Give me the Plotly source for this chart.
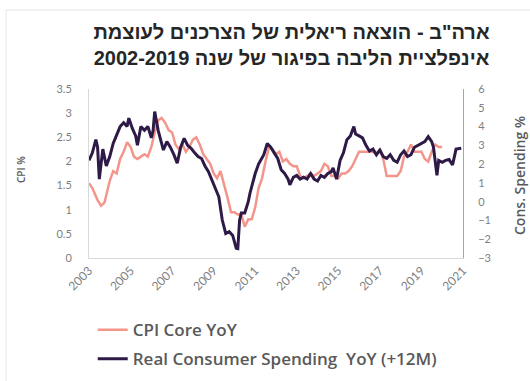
import plotly.graph_objects as go

# Core CPI, year-over-year % (left axis)
cpi_dates = [
    "2003-01", "2003-03", "2003-06", "2003-08", "2003-10", "2004-01", "2004-03", "2004-05",
    "2004-07", "2004-09", "2004-11", "2005-01", "2005-03", "2005-05", "2005-07", "2005-09",
    "2005-11", "2006-01", "2006-03", "2006-05", "2006-07", "2006-09", "2006-11", "2007-01",
    "2007-03", "2007-05", "2007-07", "2007-09", "2007-11", "2008-01", "2008-03", "2008-05",
    "2008-07", "2008-09", "2008-11", "2009-01", "2009-03", "2009-05", "2009-07", "2009-09",
    "2009-11", "2010-01", "2010-03", "2010-05", "2010-07", "2010-09", "2010-11", "2011-01",
    "2011-03", "2011-05", "2011-07", "2011-09", "2011-11", "2012-01", "2012-03", "2012-05",
    "2012-07", "2012-09", "2012-11", "2013-01", "2013-03", "2013-05", "2013-07", "2013-09",
    "2013-11", "2014-01", "2014-03", "2014-05", "2014-07", "2014-09", "2014-11", "2015-01",
    "2015-03", "2015-05", "2015-07", "2015-09", "2015-11", "2016-01", "2016-03", "2016-05",
    "2016-07", "2016-09", "2016-11", "2017-01", "2017-03", "2017-05", "2017-07", "2017-09",
    "2017-11", "2018-01", "2018-03", "2018-05", "2018-07", "2018-09", "2018-11", "2019-01",
    "2019-03", "2019-05", "2019-07", "2019-09", "2019-11", "2020-01",
]
cpi_core = [
    1.55, 1.45, 1.2, 1.08, 1.15, 1.6, 1.8, 1.75,
    2.05, 2.2, 2.4, 2.3, 2.1, 2.05, 2.1, 2.15,
    2.1, 2.3, 2.6, 2.85, 2.9, 2.8, 2.65, 2.6,
    2.35, 2.25, 2.35, 2.2, 2.3, 2.45, 2.5, 2.35,
    2.15, 2.05, 1.95, 1.75, 1.65, 1.8, 1.55, 1.25,
    0.95, 0.95, 0.9, 0.9, 0.65, 0.8, 0.8, 1.05,
    1.45, 1.65, 2.0, 2.3, 2.25, 2.15, 2.2, 2.0,
    2.05, 1.95, 1.9, 1.9, 1.7, 1.65, 1.7, 1.75,
    1.7, 1.75, 1.8, 1.95, 1.9, 1.7, 1.7, 1.65,
    1.75, 1.75, 1.8, 1.9, 2.05, 2.2, 2.2, 2.2,
    2.2, 2.2, 2.15, 2.25, 2.05, 1.7, 1.7, 1.7,
    1.7, 1.8, 2.1, 2.2, 2.35, 2.2, 2.2, 2.2,
    2.05, 2.0, 2.2, 2.35, 2.3, 2.3,
]

# Real consumer spending, year-over-year %, shifted forward 12 months (right axis)
spend_dates = [
    "2003-01", "2003-03", "2003-05", "2003-06", "2003-07", "2003-09", "2003-11", "2004-01",
    "2004-03", "2004-05", "2004-07", "2004-09", "2004-11", "2004-12", "2005-02", "2005-04",
    "2005-05", "2005-07", "2005-09", "2005-11", "2006-01", "2006-02", "2006-03", "2006-05",
    "2006-07", "2006-08", "2006-10", "2006-12", "2007-02", "2007-04", "2007-06", "2007-08",
    "2007-10", "2007-12", "2008-02", "2008-04", "2008-06", "2008-08", "2008-10", "2008-12",
    "2009-02", "2009-04", "2009-06", "2009-08", "2009-10", "2009-12", "2010-02", "2010-03",
    "2010-04", "2010-05", "2010-07", "2010-09", "2010-10", "2010-12", "2011-01", "2011-03",
    "2011-05", "2011-06", "2011-08", "2011-10", "2011-12", "2012-02", "2012-04", "2012-06",
    "2012-08", "2012-09", "2012-11", "2013-01", "2013-03", "2013-05", "2013-07", "2013-09",
    "2013-11", "2014-01", "2014-03", "2014-05", "2014-07", "2014-09", "2014-10", "2014-12",
    "2015-02", "2015-04", "2015-06", "2015-08", "2015-10", "2015-11", "2016-01", "2016-03",
    "2016-05", "2016-07", "2016-09", "2016-11", "2017-01", "2017-03", "2017-05", "2017-07",
    "2017-09", "2017-11", "2018-01", "2018-03", "2018-05", "2018-07", "2018-09", "2018-11",
    "2019-01", "2019-03", "2019-05", "2019-07", "2019-08", "2019-10", "2019-11", "2020-01",
    "2020-03", "2020-05", "2020-07", "2020-09", "2020-12",
]
real_spending = [
    2.2, 2.6, 3.3, 2.9, 1.2, 2.8, 1.9, 2.4,
    3.1, 3.6, 4.0, 4.2, 4.0, 4.45, 3.9, 3.5,
    3.0, 4.0, 3.8, 4.0, 3.4, 3.8, 4.8, 3.8,
    3.0, 2.75, 3.2, 2.9, 2.5, 2.05, 2.9, 3.37,
    3.0, 2.84, 2.6, 2.4, 2.3, 1.9, 1.6, 1.15,
    0.6, 0.26, -0.98, -1.7, -1.6, -1.8, -2.48, -2.5,
    -1.0, -0.6, -0.6, 0.0, 0.45, 1.2, 1.5, 2.0,
    2.3, 2.5, 3.1, 2.9, 2.6, 2.3, 1.7, 1.5,
    1.2, 0.9, 1.3, 1.4, 1.2, 1.3, 1.2, 1.5,
    1.2, 1.1, 1.4, 1.3, 1.5, 1.6, 1.8, 1.2,
    2.2, 2.6, 3.3, 3.5, 4.0, 3.6, 3.5, 3.4,
    3.0, 2.7, 2.8, 2.5, 2.75, 2.4, 2.3, 2.5,
    2.2, 2.1, 2.5, 2.7, 2.4, 2.5, 2.9, 3.0,
    3.1, 3.2, 3.46, 3.2, 2.9, 1.4, 2.2, 2.1,
    2.2, 2.25, 1.95, 2.8, 2.85,
]

tick_years = ["2003", "2005", "2007", "2009", "2011", "2013", "2015", "2017", "2019", "2021"]

title_lines = [
    "ארה\"ב - הוצאה ריאלית של הצרכנים לעוצמת",
    "אינפלציית הליבה בפיגור של שנה 2002-2019",
]

PINK = "#F4958C"
DARK = "#2E1A47"
GREY_TXT = "#7F7F7F"

fig = go.Figure()
fig.add_trace(go.Scatter(
    x=cpi_dates, y=cpi_core, name="CPI Core YoY", mode="lines",
    line=dict(color=PINK, width=2.5), legendgroup="a",
))
fig.add_trace(go.Scatter(
    x=spend_dates, y=real_spending, name="Real Consumer Spending  YoY (+12M)", mode="lines",
    line=dict(color=DARK, width=3), yaxis="y2", legendgroup="b",
))

rle, pdf = "\u202B", "\u202C"
fig.update_layout(
    width=530, height=381,
    margin=dict(l=89, r=67, t=89, b=123, autoexpand=False),
    paper_bgcolor="white", plot_bgcolor="white",
    title=dict(
        text="<br>".join(rle + t + pdf for t in title_lines),
        x=0.55, xanchor="center", y=0.898, yanchor="top",
        font=dict(family="Liberation Sans, Arial", size=20, color="#262626", weight="bold"),
    ),
    showlegend=True,
    legend=dict(
        x=0.01, xanchor="left", y=-0.32, yanchor="top",
        traceorder="grouped", tracegroupgap=4,
        font=dict(family="Open Sans", size=17, color="#595959", weight=600),
        bgcolor="rgba(0,0,0,0)", itemwidth=30,
    ),
    xaxis=dict(
        type="date", range=["2003-01-01", "2021-01-01"],
        tickvals=[y + "-01-01" for y in tick_years], ticktext=tick_years,
        tickangle=-45, showgrid=False, zeroline=False,
        showline=True, linecolor="#D9D9D9", linewidth=1,
        tickfont=dict(family="Lato", size=12, color=GREY_TXT),
    ),
    yaxis=dict(
        range=[0, 3.5], dtick=0.5, showgrid=False, zeroline=False,
        showline=True, linecolor="#D9D9D9", linewidth=1,
        tickfont=dict(family="Lato", size=11, color=GREY_TXT),
        ticklabelstandoff=14,
    ),
    yaxis2=dict(
        range=[-3, 6], dtick=1, overlaying="y", side="right",
        showgrid=False, zeroline=False,
        showline=True, linecolor="#A6A6A6", linewidth=1,
        tickfont=dict(family="Lato", size=11, color=GREY_TXT),
        ticklabelstandoff=12,
    ),
    annotations=[
        dict(text="CPI %", textangle=-90, xref="paper", yref="paper",
             x=(21 - 89) / 374, y=(258 - 170) / 169, xanchor="center", yanchor="middle",
             showarrow=False,
             font=dict(family="Open Sans", size=10, color="#595959", weight=600)),
        dict(text="Cons. Spending %", textangle=-90, xref="paper", yref="paper",
             x=(519 - 89) / 374, y=(258 - 176) / 169, xanchor="center", yanchor="middle",
             showarrow=False,
             font=dict(family="Open Sans", size=14, color="#595959", weight=600)),
    ],
    shapes=[
        dict(type="rect", xref="paper", yref="paper",
             x0=(6 - 89) / 374, x1=(540 - 89) / 374,
             y0=(258 - 390) / 169, y1=(258 - 10) / 169,
             line=dict(color="#E6E6E6", width=1), layer="below"),
    ],
)

fig.write_html("out.html")
